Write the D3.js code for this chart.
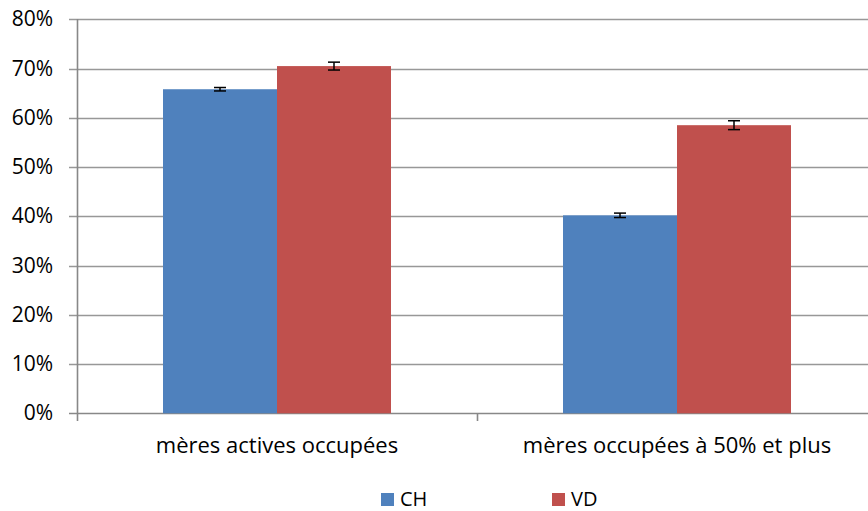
<!DOCTYPE html>
<html>
<head>
<meta charset="utf-8">
<script src="https://cdn.jsdelivr.net/npm/d3@7"></script>
<style>
  body { margin: 0; background: #fff; }
  text { font-family: "Open Sans", sans-serif; fill: #000; }
</style>
</head>
<body>
<svg></svg>
<script>
var width = 868, height = 511;

// data
var categories = ["mères actives occupées", "mères occupées à 50% et plus"];
var series = ["CH", "VD"];
var valuesCH = [65.8, 40.2];
var valuesVD = [70.5, 58.5];
var errorsCH = [0.35, 0.45];
var errorsVD = [0.8, 0.9];
var yTicks = [0, 10, 20, 30, 40, 50, 60, 70, 80];
var colors = ["#4F81BD", "#C0504D"];

var svg = d3.select("svg")
  .attr("width", width)
  .attr("height", height);

var x = d3.scaleBand()
  .domain(categories)
  .range([77, 877]);

var inner = d3.scaleBand()
  .domain(series)
  .range([86, 314]);

var y = d3.scaleLinear()
  .domain([0, 80])
  .range([413.3, 19.3]);

// gridlines
svg.append("g")
  .selectAll("line")
  .data(yTicks)
  .enter()
  .append("line")
  .attr("x1", 69)
  .attr("x2", 877)
  .attr("y1", function(d){ return Math.round(y(d)) + 0.5; })
  .attr("y2", function(d){ return Math.round(y(d)) + 0.5; })
  .attr("stroke", function(d){ return d === 0 ? "#888" : "#989898"; })
  .attr("stroke-width", 1.6);

// y labels
svg.append("g")
  .selectAll("text")
  .data(yTicks)
  .enter()
  .append("text")
  .attr("x", 53)
  .attr("y", function(d){ return y(d) + 7; })
  .attr("text-anchor", "end")
  .style("font-size", "21px")
  .text(function(d){ return d + "%"; });

// bars
var table = [];
categories.forEach(function(c, i){
  table.push({cat: c, s: "CH", v: valuesCH[i], e: errorsCH[i], color: colors[0]});
  table.push({cat: c, s: "VD", v: valuesVD[i], e: errorsVD[i], color: colors[1]});
});

svg.append("g")
  .selectAll("rect")
  .data(table)
  .enter()
  .append("rect")
  .attr("x", function(d){ return x(d.cat) + inner(d.s); })
  .attr("y", function(d){ return y(d.v); })
  .attr("width", inner.bandwidth())
  .attr("height", function(d){ return y(0) - y(d.v); })
  .attr("fill", function(d){ return d.color; });

// error bars
var eb = svg.append("g")
  .attr("stroke", "#000")
  .attr("stroke-width", 1.5);

table.forEach(function(d){
  var cx = x(d.cat) + inner(d.s) + inner.bandwidth() / 2;
  var y1 = y(d.v + d.e), y2 = y(d.v - d.e);
  eb.append("line").attr("x1", cx).attr("x2", cx).attr("y1", y1).attr("y2", y2);
  eb.append("line").attr("x1", cx - 6).attr("x2", cx + 6).attr("y1", y1).attr("y2", y1);
  eb.append("line").attr("x1", cx - 6).attr("x2", cx + 6).attr("y1", y2).attr("y2", y2);
});

// axes lines
svg.append("line")
  .attr("x1", 77.5).attr("x2", 77.5)
  .attr("y1", 19).attr("y2", 421)
  .attr("stroke", "#888").attr("stroke-width", 1.6);

svg.append("g")
  .selectAll("line")
  .data([477, 877])
  .enter()
  .append("line")
  .attr("x1", function(d){ return d + 0.5; })
  .attr("x2", function(d){ return d + 0.5; })
  .attr("y1", 413).attr("y2", 421)
  .attr("stroke", "#888").attr("stroke-width", 1.6);

// category labels
svg.append("g")
  .selectAll("text")
  .data(categories)
  .enter()
  .append("text")
  .attr("x", function(d){ return x(d) + x.bandwidth() / 2; })
  .attr("y", 453)
  .attr("text-anchor", "middle")
  .style("font-size", "22px")
  .text(function(d){ return d; });

// legend
var legX = [381, 552];
var leg = svg.append("g")
  .selectAll("g")
  .data(series)
  .enter()
  .append("g")
  .attr("transform", function(d, i){ return "translate(" + legX[i] + ",0)"; });

leg.append("rect")
  .attr("x", 0).attr("y", 493)
  .attr("width", 13).attr("height", 13)
  .attr("fill", function(d, i){ return colors[i]; });

leg.append("text")
  .attr("x", 19).attr("y", 506)
  .style("font-size", "20px")
  .text(function(d){ return d; });
</script>
</body>
</html>
